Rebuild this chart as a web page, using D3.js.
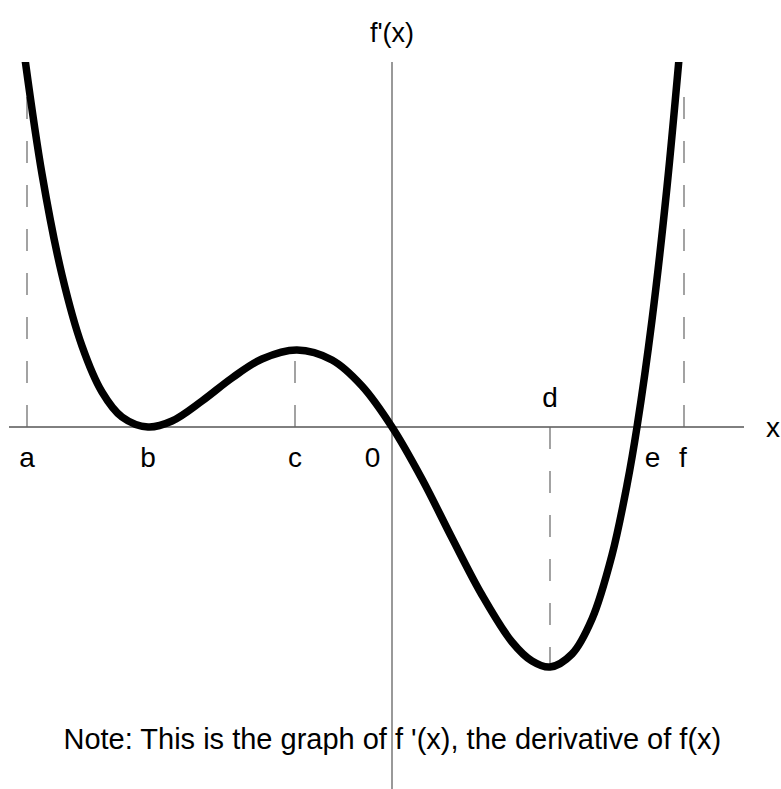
<!DOCTYPE html>
<html>
<head>
<meta charset="utf-8">
<script src="https://cdn.jsdelivr.net/npm/d3@7"></script>
<style>
  html, body { margin: 0; padding: 0; background: #fff; }
  svg { display: block; }
  text { font-family: "Liberation Sans", Arial, Helvetica, sans-serif; fill: #000; }
</style>
</head>
<body>
<svg id="chart" width="781" height="789"></svg>
<script>
// ---- data ----
const curveX = [-3.70, -3.50, -3.30, -3.10, -2.90, -2.70, -2.44, -2.20, -1.90, -1.60, -1.30, -0.95, -0.60, -0.30, 0.00,
                0.30, 0.60, 0.90, 1.20, 1.40, 1.58, 1.80, 2.00, 2.20, 2.35, 2.45, 2.60, 2.75, 2.90];
const curveY = [3.90, 2.53, 1.52, 0.81, 0.35, 0.10, 0.00, 0.06, 0.26, 0.49, 0.68, 0.77, 0.67, 0.41, 0.00,
                -0.52, -1.11, -1.68, -2.15, -2.34, -2.40, -2.27, -1.92, -1.28, -0.58, 0.00, 1.07, 2.40, 4.02];

const markNames = ["a", "b", "c", "0", "d", "e", "f"];
const markX     = [-3.65, -2.44, -0.97, -0.195, 1.58, 2.605, 2.91];
const markAbove = [false, false, false, false, true, false, false];

const guideX    = [-3.65, -0.97, 1.58, 2.92];   // dashed guides at a, c, d, f
const guideTop  = [3.34, 0.77, -2.40, 3.31];    // where each guide ends

const xDomain = [-3.83, 3.52];
const yDomain = [-3.62, 3.65];

const titleText = "f'(x)";
const axisName = "x";
const notePrefix = "Note: This is the graph of ";
const noteRest = "f '(x), the derivative of f(x)";

// ---- drawing ----
const svg = d3.select("#chart");
const x = d3.scaleLinear().domain(xDomain).range([9, 744]);
const y = d3.scaleLinear().domain(yDomain).range([789, 62]);

svg.append("defs").append("clipPath").attr("id", "plotclip")
  .append("rect").attr("x", 0).attr("y", y(yDomain[1])).attr("width", 781).attr("height", 789);

// x axis line
svg.append("line")
  .attr("x1", x(xDomain[0])).attr("x2", x(xDomain[1]))
  .attr("y1", y(0)).attr("y2", y(0))
  .attr("stroke", "#000").attr("stroke-width", 1);

// vertical axis
svg.append("line")
  .attr("x1", x(0)).attr("x2", x(0))
  .attr("y1", y(yDomain[1])).attr("y2", y(yDomain[0]))
  .attr("stroke", "#777").attr("stroke-width", 1.5);

// dashed guides
svg.selectAll("line.guide").data(guideX).join("line")
  .attr("class", "guide")
  .attr("x1", d => x(d)).attr("x2", d => x(d))
  .attr("y1", y(0)).attr("y2", (d, i) => y(guideTop[i]))
  .attr("stroke", "#666").attr("stroke-width", 1.2)
  .attr("stroke-dasharray", "22,22");

// curve
const pts = curveX.map((v, i) => [v, curveY[i]]);
svg.append("path")
  .attr("clip-path", "url(#plotclip)")
  .attr("d", d3.line().x(d => x(d[0])).y(d => y(d[1])).curve(d3.curveCatmullRom.alpha(0.5))(pts))
  .attr("fill", "none").attr("stroke", "#000").attr("stroke-width", 7.5)
  .attr("stroke-linejoin", "round");

// labels on the x axis
svg.selectAll("text.mark").data(markNames).join("text")
  .attr("class", "mark")
  .attr("x", (d, i) => x(markX[i]))
  .attr("y", (d, i) => markAbove[i] ? y(0.20) : y(-0.40))
  .attr("text-anchor", "middle")
  .attr("font-size", 28)
  .text(d => d);

svg.append("text")
  .attr("x", x(3.81)).attr("y", y(-0.10))
  .attr("text-anchor", "middle")
  .attr("font-size", 28).text(axisName);

svg.append("text")
  .attr("x", x(0)).attr("y", 42)
  .attr("text-anchor", "middle")
  .attr("font-size", 27).text(titleText);

// note: split so that the axis passes between "of" and "f"
const note = svg.append("text")
  .attr("y", y(-3.12) + 10)
  .attr("font-size", 29);
note.append("tspan").text(notePrefix);
note.append("tspan").text(noteRest);
const prefixLen = note.node().getSubStringLength(0, notePrefix.length);
note.attr("x", x(0) + 3 - prefixLen);
</script>
</body>
</html>
